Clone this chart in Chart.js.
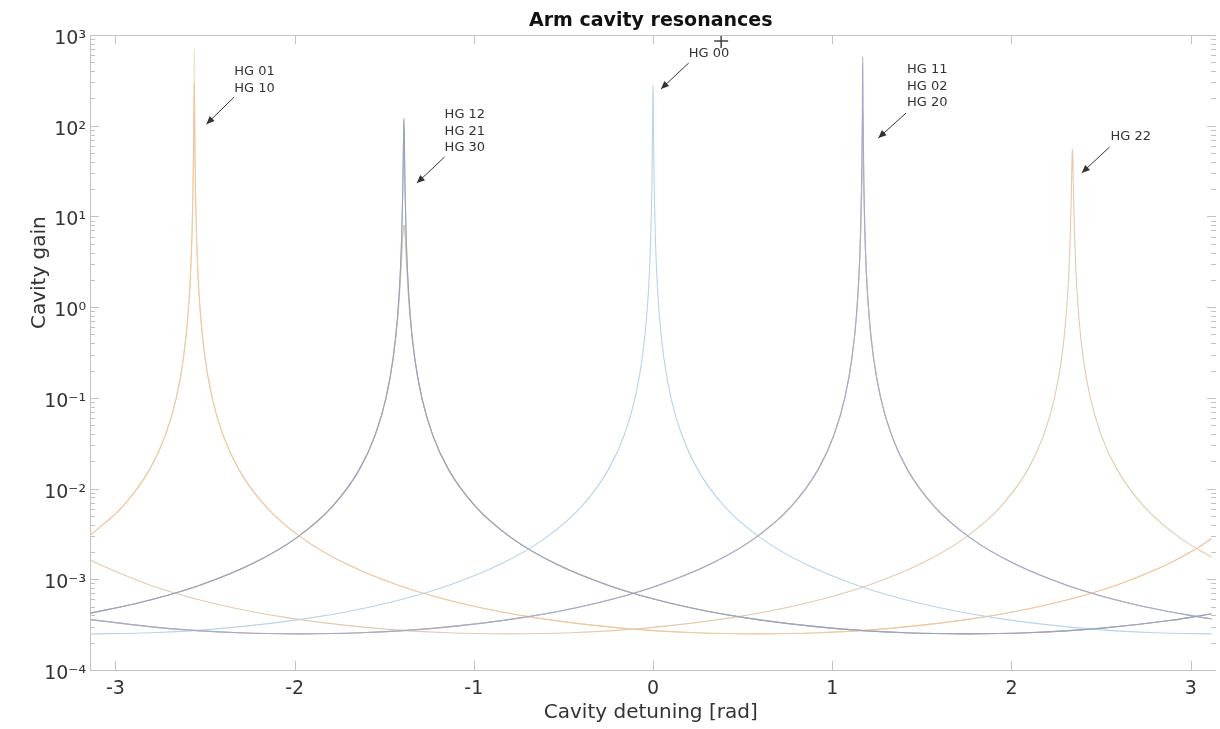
<!DOCTYPE html>
<html><head><meta charset="utf-8">
<script src="https://cdn.jsdelivr.net/npm/chart.js@4.4.1/dist/chart.umd.min.js"></script>
<style>html,body{margin:0;padding:0;background:#fff}#wrap{width:1220px;height:729px}</style>
</head><body><div id="wrap"><canvas id="c" width="1220" height="729"></canvas></div>
<script>
// ---- tick labels ----
const xTickValues = [-3, -2, -1, 0, 1, 2, 3];
const xTickLabels = ['-3', '-2', '-1', '0', '1', '2', '3'];
const yTickValues = [1e-4, 1e-3, 1e-2, 1e-1, 1, 10, 100, 1000];
const yTickLabels = ['10⁻⁴', '10⁻³', '10⁻²', '10⁻¹', '10⁰', '10¹', '10²', '10³'];

// ---- detuning samples (rad) for each resonance family ----
const detuneOrder1 = [-3.1416, -2.96, -2.81, -2.72, -2.66, -2.62, -2.595, -2.58, -2.572, -2.567, -2.564, -2.562, -2.561, -2.56, -2.559, -2.558, -2.556, -2.553, -2.548, -2.54, -2.525, -2.5, -2.46, -2.4, -2.31, -2.16, -1.96, -1.71, -1.41, -1.06, -0.66, -0.16, 0.24, 0.5816, 0.9232, 1.3232, 1.8232, 2.2232, 2.5732, 2.8732, 3.0232, 3.1416];
const detuneOrder3 = [-3.1416, -2.89, -2.54, -2.24, -1.99, -1.79, -1.64, -1.55, -1.49, -1.45, -1.425, -1.41, -1.402, -1.397, -1.394, -1.392, -1.391, -1.39, -1.389, -1.388, -1.386, -1.383, -1.378, -1.37, -1.355, -1.33, -1.29, -1.23, -1.14, -0.99, -0.79, -0.54, -0.24, 0.11, 0.51, 1.01, 1.41, 1.7516, 2.0932, 2.4932, 2.8932, 3.1416];
const detuneOrder0 = [-3.1416, -2.8, -2.4, -1.9, -1.5, -1.15, -0.85, -0.6, -0.4, -0.25, -0.16, -0.1, -0.06, -0.035, -0.02, -0.012, -0.007, -0.004, -0.002, -0.001, 0, 0.001, 0.002, 0.004, 0.007, 0.012, 0.02, 0.035, 0.06, 0.1, 0.16, 0.25, 0.4, 0.6, 0.85, 1.15, 1.5, 1.9, 2.4, 2.8, 3.1416];
const detuneOrder2 = [-3.1416, -2.7132, -2.3132, -1.9716, -1.63, -1.23, -0.73, -0.33, 0.02, 0.32, 0.57, 0.77, 0.92, 1.01, 1.07, 1.11, 1.135, 1.15, 1.158, 1.163, 1.166, 1.168, 1.169, 1.17, 1.171, 1.172, 1.174, 1.177, 1.182, 1.19, 1.205, 1.23, 1.27, 1.33, 1.42, 1.57, 1.77, 2.02, 2.32, 2.67, 3.07, 3.1416];
const detuneOrder4 = [-3.1416, -3.0932, -2.7932, -2.4432, -2.0432, -1.5432, -1.1432, -0.8016, -0.46, -0.06, 0.44, 0.84, 1.19, 1.49, 1.74, 1.94, 2.09, 2.18, 2.24, 2.28, 2.305, 2.32, 2.328, 2.333, 2.336, 2.338, 2.339, 2.34, 2.341, 2.342, 2.344, 2.347, 2.352, 2.36, 2.375, 2.4, 2.44, 2.5, 2.59, 2.74, 2.94, 3.1416];

// ---- cavity gain per mode ----
const gainHG01 = [3.041e-3, 6.334e-3, 0.01608, 0.03915, 0.1001, 0.2777, 0.815, 2.49, 6.87, 19.8, 57.4, 184.2, 411.8, 700, 411.8, 184.2, 57.4, 19.8, 6.87, 2.49, 0.815, 0.2777, 0.1001, 0.03915, 0.01608, 6.334e-3, 2.863e-3, 1.470e-3, 8.453e-4, 5.381e-4, 3.778e-4, 2.878e-4, 2.574e-4, 2.5e-4, 2.574e-4, 2.878e-4, 3.778e-4, 5.381e-4, 8.453e-4, 1.470e-3, 2.126e-3, 3.041e-3];
const gainHG10 = [3.041e-3, 6.334e-3, 0.01608, 0.03915, 0.1001, 0.2775, 0.814, 2.48, 6.78, 19.1, 51.7, 136.4, 230.8, 300, 230.8, 136.4, 51.7, 19.1, 6.78, 2.48, 0.814, 0.2775, 0.1001, 0.03915, 0.01608, 6.334e-3, 2.863e-3, 1.470e-3, 8.453e-4, 5.381e-4, 3.778e-4, 2.878e-4, 2.574e-4, 2.5e-4, 2.574e-4, 2.878e-4, 3.778e-4, 5.381e-4, 8.453e-4, 1.470e-3, 2.126e-3, 3.041e-3];
const gainHG12 = [4.237e-4, 5.381e-4, 8.453e-4, 1.470e-3, 2.863e-3, 6.334e-3, 0.01608, 0.03914, 0.1000, 0.2772, 0.810, 2.45, 6.56, 17.4, 41.1, 81.1, 107.1, 120, 107.1, 81.1, 41.1, 17.4, 6.56, 2.45, 0.810, 0.2772, 0.1000, 0.03914, 0.01608, 6.334e-3, 2.863e-3, 1.470e-3, 8.453e-4, 5.381e-4, 3.778e-4, 2.878e-4, 2.574e-4, 2.5e-4, 2.574e-4, 2.878e-4, 3.531e-4, 4.237e-4];
const gainHG21 = [4.237e-4, 5.381e-4, 8.453e-4, 1.470e-3, 2.863e-3, 6.334e-3, 0.01608, 0.03914, 0.1000, 0.2770, 0.810, 2.44, 6.49, 16.9, 38.5, 71.4, 90.9, 100, 90.9, 71.4, 38.5, 16.9, 6.49, 2.44, 0.810, 0.2770, 0.1000, 0.03914, 0.01608, 6.334e-3, 2.863e-3, 1.470e-3, 8.453e-4, 5.381e-4, 3.778e-4, 2.878e-4, 2.574e-4, 2.5e-4, 2.574e-4, 2.878e-4, 3.531e-4, 4.237e-4];
const gainHG30 = [4.237e-4, 5.381e-4, 8.453e-4, 1.470e-3, 2.863e-3, 6.334e-3, 0.01605, 0.03896, 0.0988, 0.269, 0.741, 1.90, 3.72, 5.75, 7.09, 7.75, 7.94, 8, 7.94, 7.75, 7.09, 5.75, 3.72, 1.90, 0.741, 0.269, 0.0988, 0.03896, 0.01605, 6.334e-3, 2.863e-3, 1.470e-3, 8.453e-4, 5.381e-4, 3.778e-4, 2.878e-4, 2.574e-4, 2.5e-4, 2.574e-4, 2.878e-4, 3.531e-4, 4.237e-4];
const gainHG00 = [2.5e-4, 2.574e-4, 2.878e-4, 3.778e-4, 5.381e-4, 8.453e-4, 1.470e-3, 2.863e-3, 6.334e-3, 0.01608, 0.03915, 0.1001, 0.2775, 0.814, 2.48, 6.77, 19.0, 51.1, 132.1, 218.8, 280, 218.8, 132.1, 51.1, 19.0, 6.77, 2.48, 0.814, 0.2775, 0.1001, 0.03915, 0.01608, 6.334e-3, 2.863e-3, 1.470e-3, 8.453e-4, 5.381e-4, 3.778e-4, 2.878e-4, 2.574e-4, 2.5e-4];
const gainHG11 = [3.596e-4, 2.878e-4, 2.574e-4, 2.5e-4, 2.574e-4, 2.878e-4, 3.778e-4, 5.381e-4, 8.453e-4, 1.470e-3, 2.863e-3, 6.334e-3, 0.01608, 0.03915, 0.1001, 0.2777, 0.815, 2.49, 6.86, 19.7, 56.3, 173.8, 363.1, 570, 363.1, 173.8, 56.3, 19.7, 6.86, 2.49, 0.815, 0.2777, 0.1001, 0.03915, 0.01608, 6.334e-3, 2.863e-3, 1.470e-3, 8.453e-4, 5.381e-4, 3.778e-4, 3.596e-4];
const gainHG02 = [3.596e-4, 2.878e-4, 2.574e-4, 2.5e-4, 2.574e-4, 2.878e-4, 3.778e-4, 5.381e-4, 8.453e-4, 1.470e-3, 2.863e-3, 6.334e-3, 0.01608, 0.03914, 0.1000, 0.2772, 0.811, 2.46, 6.61, 17.8, 43.2, 89.7, 122.8, 140, 122.8, 89.7, 43.2, 17.8, 6.61, 2.46, 0.811, 0.2772, 0.1000, 0.03914, 0.01608, 6.334e-3, 2.863e-3, 1.470e-3, 8.453e-4, 5.381e-4, 3.778e-4, 3.596e-4];
const gainHG20 = [3.596e-4, 2.878e-4, 2.574e-4, 2.5e-4, 2.574e-4, 2.878e-4, 3.778e-4, 5.381e-4, 8.453e-4, 1.470e-3, 2.863e-3, 6.334e-3, 0.01607, 0.03911, 0.0998, 0.2759, 0.80, 2.35, 5.91, 13.5, 24.4, 34.5, 38.5, 40, 38.5, 34.5, 24.4, 13.5, 5.91, 2.35, 0.80, 0.2759, 0.0998, 0.03911, 0.01607, 6.334e-3, 2.863e-3, 1.470e-3, 8.453e-4, 5.381e-4, 3.778e-4, 3.596e-4];
const gainHG22 = [1.642e-3, 1.470e-3, 8.453e-4, 5.381e-4, 3.778e-4, 2.878e-4, 2.574e-4, 2.5e-4, 2.574e-4, 2.878e-4, 3.778e-4, 5.381e-4, 8.453e-4, 1.470e-3, 2.863e-3, 6.333e-3, 0.01608, 0.03912, 0.0999, 0.2764, 0.804, 2.39, 6.16, 14.9, 29.3, 45.1, 52.1, 55, 52.1, 45.1, 29.3, 14.9, 6.16, 2.39, 0.804, 0.2764, 0.0999, 0.03912, 0.01608, 6.333e-3, 2.863e-3, 1.642e-3];

// ---- the "+" marker ----
const markerX = [0.38];
const markerY = [860];

// ---- annotations (data coordinates) ----
const annoLabels = [['HG 01', 'HG 10'], ['HG 12', 'HG 21', 'HG 30'], ['HG 00'], ['HG 11', 'HG 02', 'HG 20'], ['HG 22']];
const annoTextX = [-2.337, -1.163, 0.199, 1.417, 2.553];
const annoTextY = [391, 131, 617, 411, 75];
const annoTailX = [-2.337, -1.163, 0.199, 1.412, 2.547];
const annoTailY = [207, 45.2, 491, 138, 58.2];
const annoHeadX = [-2.492, -1.318, 0.044, 1.257, 2.392];
const annoHeadY = [104, 23.3, 254, 73.1, 30.1];

const FONT = 'DejaVu Sans';
const Y_TITLE = 'Cavity gain';
const Y_TITLE_AT = 2.4; // gain level where the rotated y-axis title is centred

const pts = (xs, ys) => xs.map((x, i) => ({x: x, y: ys[i]}));
const curve = (label, xs, ys, color) => ({
  label, data: pts(xs, ys), borderColor: color, backgroundColor: color,
  borderWidth: 1.1, pointRadius: 0, pointHitRadius: 0, fill: false,
  cubicInterpolationMode: 'monotone'
});

const frame = {
  id: 'frame',
  afterDraw(chart) {
    const {ctx, chartArea: a, scales: {x, y}} = chart;
    ctx.save();
    ctx.strokeStyle = '#c2c2c2';
    ctx.lineWidth = 1;
    ctx.beginPath();
    ctx.moveTo(a.left, a.top + 0.5); ctx.lineTo(a.right, a.top + 0.5);
    xTickValues.forEach(v => {
      const px = Math.round(x.getPixelForValue(v)) + 0.5;
      ctx.moveTo(px, a.bottom); ctx.lineTo(px, a.bottom - 9);
      ctx.moveTo(px, a.top); ctx.lineTo(px, a.top + 9);
    });
    const xr = x.getPixelForValue(Math.PI);
    for (let e = -4; e <= 3; e++) {
      for (let k = 1; k < 10; k++) {
        const v = k * Math.pow(10, e);
        if (v > 1000.0001) break;
        const py = Math.round(y.getPixelForValue(v)) + 0.5;
        const len = k === 1 ? 9 : 5;
        ctx.moveTo(a.left, py); ctx.lineTo(a.left + len, py);
        ctx.moveTo(xr, py); ctx.lineTo(xr - len, py);
      }
    }
    ctx.stroke();
    // y-axis title
    ctx.fillStyle = '#333';
    ctx.font = '20px "' + FONT + '"';
    ctx.textAlign = 'center';
    ctx.textBaseline = 'middle';
    ctx.translate(40, y.getPixelForValue(Y_TITLE_AT));
    ctx.rotate(-Math.PI / 2);
    ctx.fillText(Y_TITLE, 0, 0);
    ctx.restore();
  }
};

const annotate = {
  id: 'annotate',
  afterDraw(chart) {
    const {ctx, scales: {x, y}} = chart;
    ctx.save();
    ctx.font = '13px "' + FONT + '"';
    ctx.fillStyle = '#333';
    ctx.strokeStyle = '#333';
    ctx.textBaseline = 'middle';
    ctx.textAlign = 'left';
    annoLabels.forEach((lines, i) => {
      const tx = x.getPixelForValue(annoTextX[i]), ty = y.getPixelForValue(annoTextY[i]);
      lines.forEach((t, j) => ctx.fillText(t, tx, ty + j * 16.5));
      const x0 = x.getPixelForValue(annoTailX[i]), y0 = y.getPixelForValue(annoTailY[i]);
      const x1 = x.getPixelForValue(annoHeadX[i]), y1 = y.getPixelForValue(annoHeadY[i]);
      ctx.lineWidth = 1;
      ctx.beginPath(); ctx.moveTo(x0, y0); ctx.lineTo(x1, y1); ctx.stroke();
      const ang = Math.atan2(y1 - y0, x1 - x0), L = 8, W = 3.5;
      ctx.beginPath();
      ctx.moveTo(x1, y1);
      ctx.lineTo(x1 - L * Math.cos(ang) + W * Math.sin(ang), y1 - L * Math.sin(ang) - W * Math.cos(ang));
      ctx.lineTo(x1 - L * Math.cos(ang) - W * Math.sin(ang), y1 - L * Math.sin(ang) + W * Math.cos(ang));
      ctx.closePath(); ctx.fill();
    });
    ctx.restore();
  }
};

new Chart(document.getElementById('c'), {
  type: 'line',
  data: {
    datasets: [
      {label: 'marker', type: 'scatter', data: pts(markerX, markerY), pointStyle: 'cross', pointRadius: 7,
       borderColor: '#444', backgroundColor: '#444', borderWidth: 1.5, showLine: false},
      curve('HG 12', detuneOrder3, gainHG12, '#9aa3b9'),
      curve('HG 11', detuneOrder2, gainHG11, '#aba8c4'),
      curve('HG 00', detuneOrder0, gainHG00, '#b7d4ea'),
      curve('HG 10', detuneOrder1, gainHG10, '#efc7a0'),
      curve('HG 01', detuneOrder1, gainHG01, '#f1e3c8'),
      curve('HG 22', detuneOrder4, gainHG22, '#e4caad'),
      curve('HG 21', detuneOrder3, gainHG21, '#b8c2d5'),
      curve('HG 30', detuneOrder3, gainHG30, '#e1c5a4'),
      curve('HG 02', detuneOrder2, gainHG02, '#bacee1'),
      curve('HG 20', detuneOrder2, gainHG20, '#ebe0bd')
    ]
  },
  options: {
    responsive: false,
    animation: false,
    devicePixelRatio: 1,
    events: [],
    layout: {padding: 0},
    plugins: {
      legend: {display: false},
      tooltip: {enabled: false},
      title: {
        display: true, text: 'Arm cavity resonances', fullSize: false,
        font: {family: FONT, size: 19, weight: 'bold'}, color: '#111',
        padding: {top: 10, bottom: 2.2}
      }
    },
    scales: {
      x: {
        type: 'linear', min: -3.1416, max: 3.116,
        afterBuildTicks: s => { s.ticks = xTickValues.map(v => ({value: v})); },
        afterFit: s => { s.height = 59; },
        grid: {display: false, drawTicks: false},
        border: {display: true, color: '#c2c2c2', width: 1},
        ticks: {
          font: {family: FONT, size: 19}, color: '#333', padding: 8, maxRotation: 0,
          callback: (v) => { const i = xTickValues.indexOf(v); return i >= 0 ? xTickLabels[i] : ''; }
        },
        title: {display: true, text: 'Cavity detuning [rad]', font: {family: FONT, size: 20}, color: '#333', padding: {top: 0, bottom: 4}}
      },
      y: {
        type: 'logarithmic', min: 1e-4, max: 1e3,
        afterBuildTicks: s => { s.ticks = yTickValues.map(v => ({value: v})); },
        afterFit: s => { s.width = 90; },
        grid: {display: false, drawTicks: false},
        border: {display: true, color: '#c2c2c2', width: 1},
        ticks: {
          font: {family: FONT, size: 19}, color: '#333', padding: 4, labelOffset: 4,
          callback: (v) => {
            const i = yTickValues.findIndex(t => Math.abs(Math.log10(t) - Math.log10(v)) < 1e-6);
            return i >= 0 ? yTickLabels[i] : '';
          }
        },
        title: {display: false}
      }
    }
  },
  plugins: [frame, annotate]
});
</script>
</body></html>
